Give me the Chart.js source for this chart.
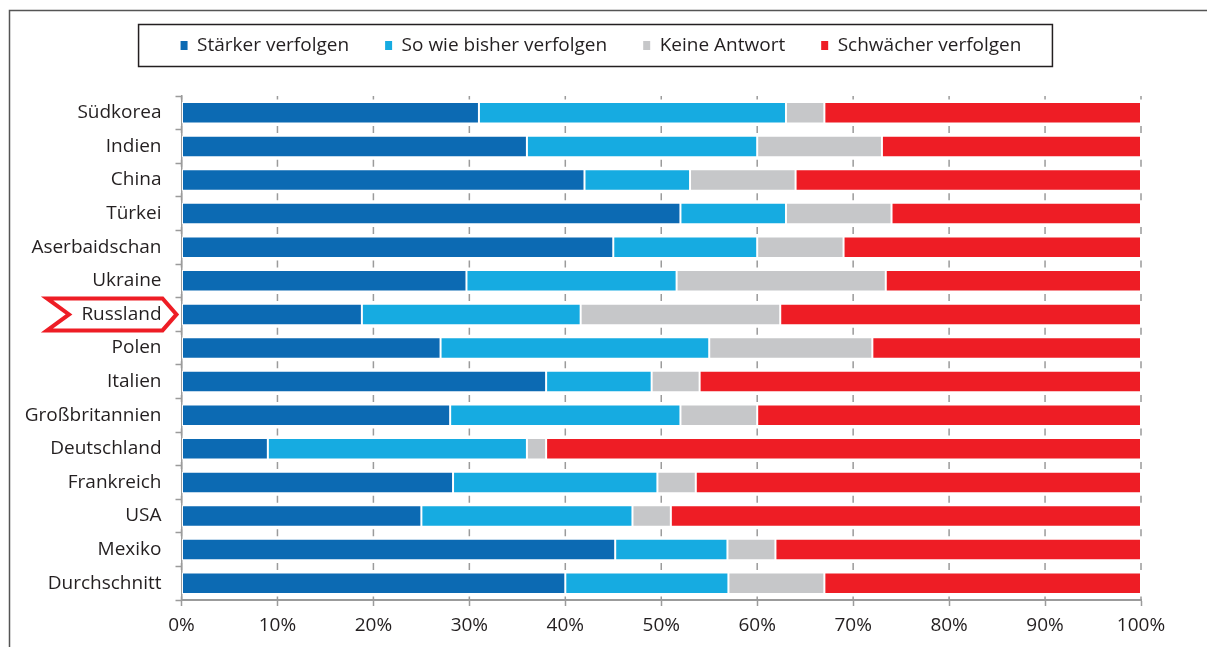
<!DOCTYPE html>
<html>
<head>
<meta charset="utf-8">
<script src="https://cdn.jsdelivr.net/npm/chart.js@4/dist/chart.umd.min.js"></script>
<style>
  html, body { margin: 0; padding: 0; background: #fff; }
</style>
</head>
<body>
<canvas id="myChart" width="1207" height="647"></canvas>
<script>
// Daten
const categories = ['Südkorea', 'Indien', 'China', 'Türkei', 'Aserbaidschan', 'Ukraine', 'Russland',
  'Polen', 'Italien', 'Großbritannien', 'Deutschland', 'Frankreich', 'USA', 'Mexiko', 'Durchschnitt'];
const seriesNames = ['Stärker verfolgen', 'So wie bisher verfolgen', 'Keine Antwort', 'Schwächer verfolgen'];
const staerker   = [31, 36, 42, 52, 45, 29.7, 18.8, 27, 38, 28, 9, 28.3, 25, 45.2, 40];
const soWie      = [32, 24, 11, 11, 15, 21.9, 22.8, 28, 11, 24, 27, 21.3, 22, 11.7, 17];
const keine      = [4, 13, 11, 11, 9, 21.8, 20.8, 17, 5, 8, 2, 4, 4, 5, 10];
const schwaecher = [33, 27, 36, 26, 31, 26.6, 37.6, 28, 46, 40, 62, 46.4, 49, 38.1, 33];
const xTicks = [0, 10, 20, 30, 40, 50, 60, 70, 80, 90, 100];
const highlight = 'Russland';

const colors = ['#0c6ab3', '#16abe1', '#c6c7c9', '#ee1d25'];
const textColor = '#231f20';
const axisGray = '#9b9b9b';
const FONT = 'Open Sans';
const FSIZE = 19;

// Rahmen + weisser Hintergrund
const framePlugin = {
  id: 'frame',
  beforeDraw(chart) {
    const ctx = chart.ctx;
    ctx.save();
    ctx.fillStyle = '#fff';
    ctx.fillRect(0, 0, chart.width, chart.height);
    ctx.strokeStyle = '#555';
    ctx.lineWidth = 1.5;
    ctx.beginPath();
    ctx.moveTo(9.5, chart.height);
    ctx.lineTo(9.5, 10.5);
    ctx.lineTo(chart.width, 10.5);
    ctx.stroke();
    ctx.restore();
  },
  afterDraw(chart) {
    // Kasten um die Legende
    const lg = chart.legend;
    if (!lg || !lg.legendHitBoxes.length) return;
    const hb = lg.legendHitBoxes;
    const left = Math.min(...hb.map(h => h.left)) - 42;
    const right = Math.max(...hb.map(h => h.left + h.width)) + 31;
    const cy = hb[0].top + hb[0].height / 2;
    const ctx = chart.ctx;
    ctx.save();
    ctx.strokeStyle = '#231f20';
    ctx.lineWidth = 1.5;
    ctx.strokeRect(left, cy - 21, right - left, 42);
    ctx.restore();
  }
};

// kleine Striche in den Lücken zwischen den Balken
const gapTicks = {
  id: 'gapTicks',
  beforeDatasetsDraw(chart) {
    const xs = chart.scales.x, ys = chart.scales.y;
    const step = (ys.bottom - ys.top) / categories.length;
    const ctx = chart.ctx;
    ctx.save();
    ctx.strokeStyle = axisGray;
    ctx.lineWidth = 1.5;
    ctx.beginPath();
    xs.ticks.forEach(t => {
      const px = xs.getPixelForValue(t.value);
      for (let i = 0; i <= categories.length; i++) {
        const py = ys.top + i * step;
        ctx.moveTo(px, Math.max(ys.top, py - 3.5));
        ctx.lineTo(px, Math.min(ys.bottom, py + 3.5));
      }
    });
    ctx.stroke();
    ctx.restore();
  }
};

// roter Pfeil um "Russland"
const arrowPlugin = {
  id: 'arrow',
  afterDraw(chart) {
    const ys = chart.scales.y;
    const idx = categories.indexOf(highlight);
    const cy = ys.getPixelForValue(idx);
    const r = ys.right - 5, l = 47, h = 16;
    const ctx = chart.ctx;
    ctx.save();
    ctx.strokeStyle = '#ee1d25';
    ctx.lineWidth = 4;
    ctx.lineJoin = 'miter';
    ctx.beginPath();
    ctx.moveTo(l, cy - h);
    ctx.lineTo(r - 14, cy - h);
    ctx.lineTo(r, cy);
    ctx.lineTo(r - 14, cy + h);
    ctx.lineTo(l, cy + h);
    ctx.lineTo(l + 22, cy);
    ctx.closePath();
    ctx.stroke();
    ctx.restore();
  }
};

// mehr Platz unter der Legende, Legende mittig auf der Seite
const legendMargin = {
  id: 'legendMargin',
  beforeInit(chart) {
    const origFit = chart.legend.fit;
    chart.legend.fit = function fit() {
      origFit.bind(chart.legend)();
      this.height += 31;
    };
  },
  afterLayout(chart) {
    const lg = chart.legend;
    lg.left = chart.width - lg.right - 5;
    lg.width = lg.right - lg.left;
  }
};

const data = {
  labels: categories,
  datasets: [staerker, soWie, keine, schwaecher].map((vals, i) => ({
    label: seriesNames[i],
    data: vals,
    backgroundColor: colors[i],
    borderColor: '#ffffff',
    borderWidth: 1,
    borderSkipped: false,
    barPercentage: 0.64,
    categoryPercentage: 1
  }))
};

const config = {
  type: 'bar',
  data: data,
  options: {
    indexAxis: 'y',
    responsive: false,
    animation: false,
    layout: { padding: { top: 0, right: 66, bottom: 0, left: 0 } },
    plugins: {
      tooltip: { enabled: false },
      legend: {
        position: 'top',
        labels: {
          color: textColor,
          font: { family: FONT, size: FSIZE },
          boxWidth: 7,
          boxHeight: 9,
          padding: 36,
          generateLabels: (chart) => Chart.defaults.plugins.legend.labels.generateLabels(chart)
            .map(l => Object.assign(l, { strokeStyle: l.fillStyle, lineWidth: 0 }))
        }
      }
    },
    scales: {
      x: {
        stacked: true,
        min: 0,
        max: 100,
        afterBuildTicks: (s) => { s.ticks = xTicks.map(v => ({ value: v })); },
        afterFit: (s) => { s.height = 47; },
        ticks: {
          color: textColor,
          font: { family: FONT, size: FSIZE },
          padding: 8.5,
          maxRotation: 0,
          callback: (v) => v + '%'
        },
        grid: { drawOnChartArea: false, drawTicks: true, tickLength: 6, tickColor: axisGray, tickWidth: 1.5 },
        border: { color: axisGray, width: 2 }
      },
      y: {
        stacked: true,
        afterFit: (s) => { s.width = 181.5; },
        ticks: {
          color: textColor,
          font: { family: FONT, size: FSIZE },
          padding: 14
        },
        grid: { drawOnChartArea: false, drawTicks: true, tickLength: 6, tickColor: axisGray, tickWidth: 1.5 },
        border: { color: axisGray, width: 1.5 }
      }
    }
  },
  plugins: [framePlugin, gapTicks, arrowPlugin, legendMargin]
};

const context = document.getElementById('myChart').getContext('2d');
const chart = new Chart(context, config);
</script>
</body>
</html>
